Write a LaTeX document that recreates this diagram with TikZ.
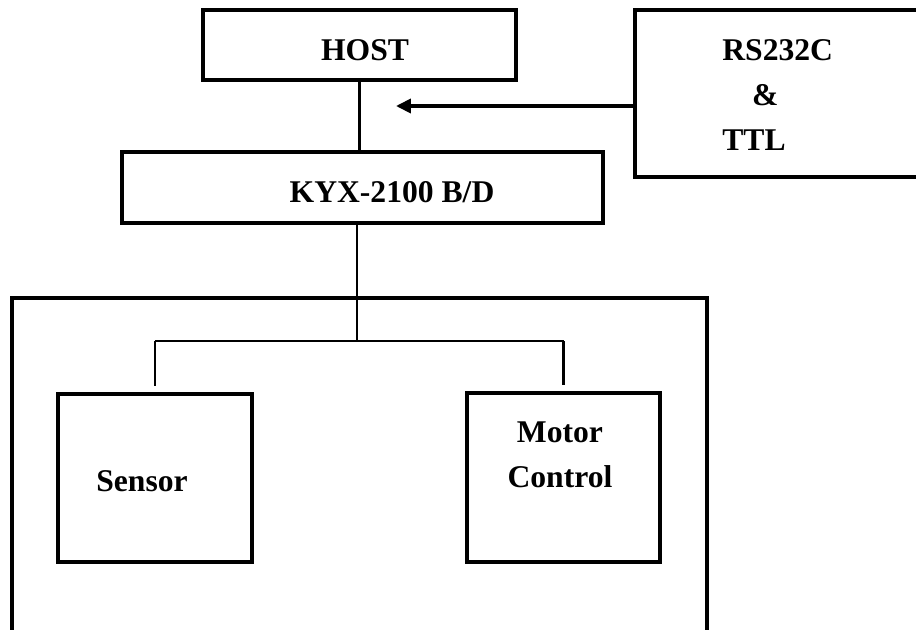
\documentclass[tikz,border=0pt]{standalone}
\usepackage{fontspec}
\setmainfont{Liberation Serif}
\usetikzlibrary{arrows.meta}
\usetikzlibrary{calc}
\usetikzlibrary{positioning}

\tikzset{
  block/.style={draw, line width=2pt, inner sep=0pt},
  frame/.style={line width=2.2pt},
  wire/.style={line width=1.5pt},
  lbl/.style={font=\fontsize{18}{25.5}\selectfont\bfseries, inner sep=0pt},
}

\begin{document}
\begin{tikzpicture}[x=0.02cm, y=-0.02cm]
  \useasboundingbox (0,0) rectangle (916,629);
  \clip (0,0) rectangle (916,629);

  \node [block, minimum width=6.26cm, minimum height=1.40cm] (host) at (359.5,45) {};
  \node [block, minimum width=6cm, minimum height=3.34cm] (rs) at (785,93.5) {};
  \node [block, minimum width=9.62cm, minimum height=1.42cm] (kyx) at (362.5,187.5) {};
  \node [block, minimum width=3.88cm, minimum height=3.36cm] (sensor) at (155,478) {};
  \node [block, minimum width=3.86cm, minimum height=3.38cm] (motor) at (563.5,477.5) {};

  \node [lbl] (host_txt) at (365,50) {HOST};
  \node [lbl, align=left, anchor=west] (rs_txt) at (722,95) {RS232C\\\hspace*{17pt}\&\\TTL};
  \node [lbl] (kyx_txt) at (392,192) {KYX-2100 B/D};
  \node [lbl] (sensor_txt) at (142,481) {Sensor};
  \node [lbl, align=center] (motor_txt) at (560,455) {Motor\\Control};

  \draw [frame] (12,640) -- (12,298) -- (707,298) -- (707,640);

  \coordinate (tip) at (396,106);
  \coordinate (bus) at (357,341);

  \draw [wire, line width=2pt, -{Triangle[length=8.5pt,width=8pt]}] (rs.west |- tip) -- (tip);
  \draw [wire] (host.south) -- (host.south |- kyx.north);
  \draw [wire] (kyx.south -| bus) -- (bus);
  \draw [wire] (sensor.north |- bus) -- (motor.north |- bus);
  \draw [wire] (sensor.north |- bus) -- ($(sensor.north)+(0,-6)$);
  \draw [wire] (motor.north |- bus) -- ($(motor.north)+(0,-6)$);

\end{tikzpicture}
\end{document}
